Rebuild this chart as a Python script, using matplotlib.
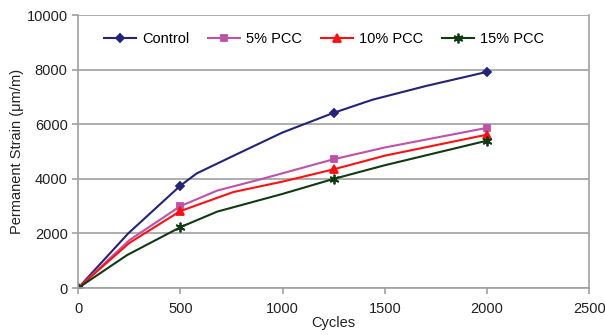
import matplotlib.pyplot as plt

plt.rcParams['font.family'] = ['Liberation Sans', 'DejaVu Sans']

# values (markers only at 0, 500, 1250, 2000)
control_x = [0, 245, 500, 580, 775, 1000, 1250, 1440, 1700, 2000]
control_y = [0, 2000, 3750, 4200, 4900, 5700, 6420, 6900, 7400, 7920]
pcc5_x = [0, 250, 500, 680, 900, 1250, 1500, 2000]
pcc5_y = [0, 1750, 3000, 3570, 4000, 4720, 5150, 5870]
pcc10_x = [0, 250, 500, 760, 1000, 1250, 1500, 2000]
pcc10_y = [0, 1650, 2820, 3520, 3900, 4350, 4850, 5620]
pcc15_x = [0, 240, 500, 680, 1000, 1250, 1500, 2000]
pcc15_y = [0, 1210, 2230, 2800, 3450, 4000, 4500, 5400]

marker_cycles = [0, 500, 1250, 2000]

fig = plt.figure(figsize=(6.05, 3.35), dpi=100)
ax = fig.add_axes([0.129, 0.140, 0.845, 0.815])

series = [
    (control_x, control_y, 'Control', '#23237A', 'D', 4.5),
    (pcc5_x, pcc5_y, '5% PCC', '#C050A8', 's', 5),
    (pcc10_x, pcc10_y, '10% PCC', '#FF1010', '^', 6),
    (pcc15_x, pcc15_y, '15% PCC', '#0F3A12', (6, 2, 0), 7),
]
for xs, ys, name, col, mk, ms in series:
    idx = [xs.index(c) for c in marker_cycles]
    ax.plot(xs, ys, color=col, lw=1.5, marker=mk, markersize=ms,
            markevery=idx, markeredgewidth=1.3, label=name)

ax.set_xlim(0, 2500)
ax.set_ylim(0, 10000)
ax.set_xticks(range(0, 2501, 500))
ax.set_yticks(range(0, 10001, 2000))
ax.grid(axis='y', color='#A0A0A0', lw=1.2)
ax.set_axisbelow(True)
for s in ax.spines.values():
    s.set_color('#A0A0A0')
    s.set_linewidth(1.2)
ax.spines['top'].set_visible(False)
ax.tick_params(colors='#A0A0A0', labelcolor='#222222', labelsize=10.5,
               length=4, width=1.2)
ax.tick_params(axis='x', pad=6)

ax.set_xlabel('Cycles', fontsize=10.5, color='#222222', labelpad=0)
ax.set_ylabel('Permanent Strain (μm/m)', fontsize=10.5, color='#222222', labelpad=2)

ax.legend(loc='upper left', bbox_to_anchor=(0.025, 0.985), ncol=4, frameon=False,
          fontsize=10.5, handlelength=2.2, columnspacing=1.3, handletextpad=0.4)

fig.savefig('out.png')
